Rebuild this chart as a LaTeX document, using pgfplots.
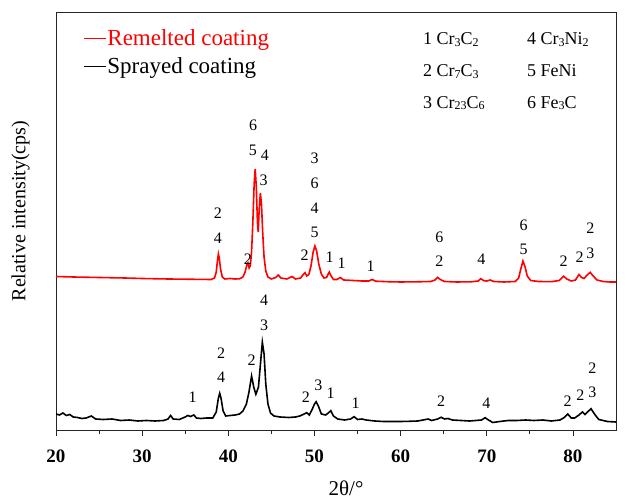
\documentclass[border=0pt]{standalone}
\usepackage{fontspec}
\setmainfont{Liberation Serif}
\usepackage{pgfplots}
\pgfplotsset{compat=1.18}
\newcommand\sub[1]{\raisebox{-1.5pt}{\fontsize{12}{12}\selectfont #1}}
\tikzset{lbl/.style={font=\fontsize{16}{16}\selectfont, inner sep=0pt, anchor=center}}
\begin{document}
\begin{tikzpicture}[x=1pt,y=1pt]
\useasboundingbox (0,0) rectangle (626,502);
\begin{axis}[
  at={(65,72)}, anchor=south west,
  scale only axis, width=560pt, height=418pt,
  xmin=20, xmax=85, ymin=72, ymax=490,
  xtick={20,30,...,80}, minor x tick num=1,
  ytick=\empty,
  xtick pos=left,
  tick align=outside,
  major tick length=6pt, minor tick length=4pt,
  axis line style={line width=0.8pt, black!85},
  every tick/.style={line width=0.8pt, black!85},
  xticklabel style={font=\fontsize{19}{19}\selectfont\bfseries, yshift=-10pt},
  /pgf/number format/assume math mode=true,
  legend style={draw=none, fill=none, at={(axis description cs:0.049,0.961)}, anchor=north west,
    font=\fontsize{23}{28}\selectfont, inner sep=0pt, row sep=9pt, nodes={inner sep=1pt}},
  legend cell align=left,
  legend image code/.code={\draw[#1, line width=0.8pt] (0pt,0pt) -- (22pt,0pt);},
]
\addplot[red, line width=1.6pt] coordinates {
(20,225.5)(22,225)(25,224.5)(28,224)(30,223.5)(33,223)(35,222.8)(37,222.6)(38.0,222.5)(38.4,224)(38.6,230)(38.75,242)(38.85,248)(38.95,244)(39.1,233)(39.3,225)(39.6,223)(40.2,223.5)(40.8,223)(41.3,223.2)(41.7,225)(41.95,230)(42.15,237)(42.28,239)(42.42,234)(42.55,236)(42.7,250)(42.85,280)(43.0,318)(43.12,333)(43.25,315)(43.38,280)(43.47,270)(43.58,292)(43.72,309)(43.85,298)(44.0,268)(44.15,245)(44.35,231)(44.6,225)(45.0,223)(45.5,224.5)(45.8,227)(46.1,224)(46.8,223)(47.4,225.5)(47.8,223)(48.4,224)(48.7,227.5)(48.9,229.3)(49.1,226)(49.35,227.5)(49.6,236)(49.85,250)(50.05,256)(50.25,251)(50.5,238)(50.8,228)(51.1,224)(51.4,224.5)(51.6,228)(51.72,230)(51.9,226.5)(52.2,222.5)(52.6,222.5)(53.0,224.5)(53.4,222)(54.5,221.5)(55.5,221)(56.3,221)(56.7,222.5)(57.1,220.8)(58.5,220.3)(60,220)(62,220.2)(63.5,220.5)(64.0,222)(64.3,224.6)(64.6,222.5)(65.1,220.5)(66.5,220)(68.2,220.2)(69.0,221)(69.3,223.3)(69.65,221.3)(70.0,221)(70.4,222)(70.8,220.5)(72,220)(73.3,220.5)(73.7,224)(73.95,233)(74.2,241)(74.45,235)(74.7,226)(75.1,221.5)(76,220.5)(77.5,220.3)(78.4,221.5)(78.9,225.8)(79.3,223)(79.8,221)(80.3,222)(80.7,227.5)(81.0,224.5)(81.3,223.5)(81.6,226.5)(82.0,229.7)(82.35,226)(82.8,222)(83.5,220.5)(84.3,220)(85,220)
};
\addlegendentry{\textcolor{red}{Remelted coating}}
\addplot[black, line width=1.6pt] coordinates {
(20,88)(20.4,87)(20.8,89)(21.2,86.5)(21.6,87.5)(22.0,85)(22.5,84.5)(23.0,83.5)(23.5,84)(24.1,86)(24.6,83)(25.5,82.5)(26.5,83)(27.5,81.5)(28.5,82)(29.5,81)(30.5,81.5)(31.5,81)(32.5,81.5)(33.0,83)(33.3,86.5)(33.6,83)(34.3,82.5)(35.0,85)(35.3,86.5)(35.6,85.5)(36.0,87)(36.3,84)(36.8,83.5)(37.5,84)(38.2,84)(38.6,90)(38.85,104)(39.0,108.7)(39.15,104)(39.4,91)(39.7,86)(40.2,86.5)(40.8,87)(41.3,88)(41.7,91)(42.1,98)(42.4,110)(42.7,126)(42.95,115)(43.2,107.7)(43.5,115)(43.75,140)(43.95,159.7)(44.15,148)(44.35,118)(44.6,98)(44.9,89)(45.3,86)(46,85)(47,84.5)(47.8,85)(48.3,86)(48.8,88)(49.1,89.3)(49.4,87)(49.7,92)(50.0,98)(50.2,100.3)(50.45,96)(50.8,88)(51.3,87)(51.6,89)(51.9,91.3)(52.2,86)(52.7,83)(53.5,82)(54.2,83)(54.6,85.3)(55.0,82.5)(55.5,83)(56.0,82)(57,81)(58,80.5)(59,80.5)(60,80.5)(61,80.7)(62,81)(63.2,83)(63.6,81.5)(64.3,83)(64.7,84.7)(65.1,83)(65.5,83.5)(66,82)(67,81.5)(68,81)(69.4,82)(69.8,84.3)(70.2,82)(70.7,79.5)(71.5,80.5)(72.5,81.5)(73.5,81.5)(74.5,82)(75.5,81.5)(76.5,82)(77.5,81)(78.5,82)(79.0,84.5)(79.4,88)(79.8,84)(80.2,84)(80.7,87)(81.1,90)(81.4,87.5)(81.7,90)(82.1,93.3)(82.5,88)(83.0,82.5)(84,80.5)(85,80)
};
\addlegendentry{Sprayed coating}
% red labels
\node[lbl] at (axis cs:38.78,289) {2};
\node[lbl] at (axis cs:38.78,264) {4};
\node[lbl] at (axis cs:42.26,243) {2};
\node[lbl] at (axis cs:42.89,377) {6};
\node[lbl] at (axis cs:42.84,352) {5};
\node[lbl] at (axis cs:44.23,347) {4};
\node[lbl] at (axis cs:44.11,322) {3};
\node[lbl] at (axis cs:50.02,344) {3};
\node[lbl] at (axis cs:50.02,319) {6};
\node[lbl] at (axis cs:50.02,294) {4};
\node[lbl] at (axis cs:50.02,270) {5};
\node[lbl] at (axis cs:48.86,247) {2};
\node[lbl] at (axis cs:51.76,245) {1};
\node[lbl] at (axis cs:53.15,239) {1};
\node[lbl] at (axis cs:56.51,236) {1};
\node[lbl] at (axis cs:64.51,265) {6};
\node[lbl] at (axis cs:64.51,241) {2};
\node[lbl] at (axis cs:69.38,243) {4};
\node[lbl] at (axis cs:74.29,277) {6};
\node[lbl] at (axis cs:74.29,253) {5};
\node[lbl] at (axis cs:78.92,241) {2};
\node[lbl] at (axis cs:80.78,245) {2};
\node[lbl] at (axis cs:82.02,249) {3};
\node[lbl] at (axis cs:82.02,274) {2};
% black labels
\node[lbl] at (axis cs:35.85,105) {1};
\node[lbl] at (axis cs:39.16,149) {2};
\node[lbl] at (axis cs:39.16,125) {4};
\node[lbl] at (axis cs:42.72,142) {2};
\node[lbl] at (axis cs:44.17,202) {4};
\node[lbl] at (axis cs:44.17,177) {3};
\node[lbl] at (axis cs:49.01,105) {2};
\node[lbl] at (axis cs:50.45,117) {3};
\node[lbl] at (axis cs:51.88,109) {1};
\node[lbl] at (axis cs:54.78,99) {1};
\node[lbl] at (axis cs:64.71,101) {2};
\node[lbl] at (axis cs:69.96,99) {4};
\node[lbl] at (axis cs:79.39,101) {2};
\node[lbl] at (axis cs:80.86,107) {2};
\node[lbl] at (axis cs:82.25,110) {3};
\node[lbl] at (axis cs:82.25,134) {2};
\end{axis}
% phase list
\begin{scope}[every node/.style={font=\fontsize{18}{18}\selectfont, anchor=base west, inner sep=0pt}]
\node at (423,457) {1 Cr\sub{3}C\sub{2}};
\node at (423,425) {2 Cr\sub{7}C\sub{3}};
\node at (423,393.7) {3 Cr\sub{23}C\sub{6}};
\node at (527,457) {4 Cr\sub{3}Ni\sub{2}};
\node at (527,425) {5 FeNi};
\node at (527,393.7) {6 Fe\sub{3}C};
\end{scope}
\node[rotate=90, font=\fontsize{20}{20}\selectfont] at (20.7,291) {Relative intensity(cps)};
\node[font=\fontsize{21}{21}\selectfont] at (346,14) {2θ/°};
\end{tikzpicture}
\end{document}
